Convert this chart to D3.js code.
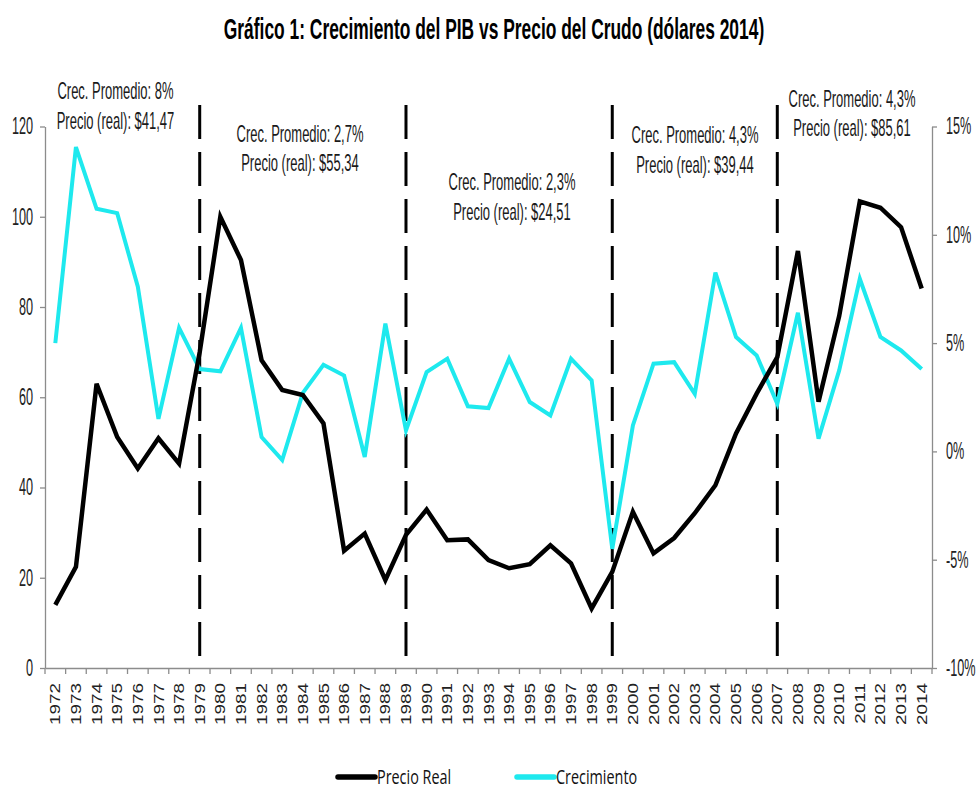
<!DOCTYPE html>
<html>
<head>
<meta charset="utf-8">
<script src="https://cdn.jsdelivr.net/npm/d3@7"></script>
<style>
  body { margin: 0; background: #fff; }
  svg { display: block; }
</style>
</head>
<body>
<div id="chart"></div>
<script>
// data
const years = d3.range(1972, 2015);
const precioReal = [14.0, 22.4, 63.0, 51.2, 44.2, 50.9, 45.3, 70.0, 100.0, 90.4,
  68.2, 61.6, 60.5, 54.2, 26.0, 29.8, 19.5, 29.5, 35.1, 28.3,
  28.5, 23.9, 22.1, 23.0, 27.2, 23.2, 13.2, 21.3, 34.6, 25.4,
  28.8, 34.3, 40.5, 52.0, 60.8, 68.9, 92.4, 59.0, 78.0, 103.4,
  102.0, 97.7, 84.1];
const crecimiento = [5.0, 14.05, 11.2, 11.0, 7.6, 1.5, 5.7, 3.8, 3.7, 5.7,
  0.66, -0.4, 2.7, 4.0, 3.5, -0.26, 5.9, 0.97, 3.66, 4.28,
  2.08, 2.0, 4.28, 2.28, 1.66, 4.28, 3.28, -4.5, 1.2, 4.05,
  4.12, 2.66, 8.26, 5.28, 4.43, 2.2, 6.4, 0.59, 3.74, 7.97,
  5.28, 4.66, 3.8];
const leftTicks = [0, 20, 40, 60, 80, 100, 120];
const rightTicks = [-10, -5, 0, 5, 10, 15];
const dividerYears = [1979, 1989, 1999, 2007];
const annotGrowth = ["8%", "2,7%", "2,3%", "4,3%", "4,3%"];
const annotPrice = ["$41,47", "$55,34", "$24,51", "$39,44", "$85,61"];
const seriesNames = ["Precio Real", "Crecimiento"];

// layout
const width = 977, height = 789;
const margin = { left: 45, right: 932, top: 126.5, bottom: 668 };
const annotLayout = [
  { x: 115.5, y: 99 }, { x: 300, y: 141.5 }, { x: 512, y: 190 },
  { x: 695, y: 143 }, { x: 852, y: 106.5 }
];
const cyan = "#1ee9ee";
const sans = "'Liberation Sans', Arial, sans-serif";

const svg = d3.select("#chart").append("svg")
  .attr("width", width)
  .attr("height", height)
  .attr("viewBox", [0, 0, width, height]);

// squeeze text horizontally (the original uses a narrow face)
// done with a transform so the real box of the text gets narrower too
function squeeze(sel, k) {
  sel.each(function() {
    const t = d3.select(this);
    const tx = +t.attr("x") || 0;
    const ty = +t.attr("y") || 0;
    t.attr("x", 0).attr("y", 0)
      .attr("transform", `translate(${tx},${ty}) scale(${k},1)`);
  });
}

// scales
const x = d3.scaleBand().domain(years).range([margin.left, margin.right]);
const yL = d3.scaleLinear().domain([0, 120]).range([margin.bottom, margin.top]);
const yR = d3.scaleLinear().domain([-10, 15]).range([margin.bottom, margin.top]);
const cx = d => x(d) + x.bandwidth() / 2;

// title
svg.append("text")
  .attr("x", 494)
  .attr("y", 39)
  .attr("text-anchor", "middle")
  .style("font-family", sans)
  .style("font-size", "29px")
  .style("font-weight", "bold")
  .text("Gráfico 1: Crecimiento del PIB vs Precio del Crudo (dólares 2014)")
  .call(squeeze, 0.60);

// left axis
const gL = svg.append("g")
  .attr("transform", `translate(${margin.left},0)`)
  .call(d3.axisLeft(yL).tickValues(leftTicks).tickSize(5).tickSizeOuter(0).tickPadding(7));
gL.selectAll("text")
  .style("font-family", sans)
  .style("font-size", "23px")
  .attr("fill", "#222")
  .call(squeeze, 0.55);

// right axis
const gR = svg.append("g")
  .attr("transform", `translate(${margin.right},0)`)
  .call(d3.axisRight(yR).tickValues(rightTicks).tickSize(5).tickSizeOuter(0).tickPadding(9)
    .tickFormat(d => d + "%"));
gR.selectAll("text")
  .style("font-family", sans)
  .style("font-size", "23px")
  .attr("fill", "#222")
  .call(squeeze, 0.55);

// bottom axis: labels at band centres, ticks on band edges
const gB = svg.append("g")
  .attr("transform", `translate(0,${margin.bottom})`)
  .call(d3.axisBottom(x).tickSize(0).tickSizeOuter(0).tickPadding(0));
gB.selectAll("text")
  .attr("x", 0)
  .attr("y", 0)
  .attr("dy", "0.36em")
  .attr("transform", "rotate(-90) translate(-15,0) scale(1.35,1)")
  .attr("text-anchor", "end")
  .style("font-family", sans)
  .style("font-size", "14px")
  .attr("fill", "#222");
gB.selectAll(".edge")
  .data(years.map(d => x(d)).concat([margin.right]))
  .join("line")
  .attr("class", "edge")
  .attr("x1", d => d).attr("x2", d => d)
  .attr("y1", 0).attr("y2", 6);

[gL, gR, gB].forEach(g => {
  g.selectAll("path, line").attr("stroke", "#8c8c8c").attr("stroke-width", 1.3);
});

// period dividers
svg.append("g")
  .selectAll("line")
  .data(dividerYears)
  .join("line")
  .attr("x1", d => cx(d)).attr("x2", d => cx(d))
  .attr("y1", 105).attr("y2", margin.bottom)
  .attr("stroke", "#000")
  .attr("stroke-width", 3)
  .attr("stroke-dasharray", "34,13");

// series lines
const linePrecio = d3.line().x((d, i) => cx(years[i])).y(d => yL(d));
const lineCrec = d3.line().x((d, i) => cx(years[i])).y(d => yR(d));

svg.append("path")
  .datum(crecimiento)
  .attr("d", lineCrec)
  .attr("fill", "none")
  .attr("stroke", cyan)
  .attr("stroke-width", 4)
  .attr("stroke-linejoin", "miter");

svg.append("path")
  .datum(precioReal)
  .attr("d", linePrecio)
  .attr("fill", "none")
  .attr("stroke", "#000")
  .attr("stroke-width", 4.5)
  .attr("stroke-linejoin", "miter");

// period annotations
const ann = svg.append("g")
  .style("font-family", sans)
  .style("font-size", "23px")
  .attr("fill", "#1a1a1a")
  .attr("text-anchor", "middle");
annotLayout.forEach((p, i) => {
  ann.append("text")
    .attr("x", p.x).attr("y", p.y)
    .text("Crec. Promedio: " + annotGrowth[i])
    .call(squeeze, 0.565);
  ann.append("text")
    .attr("x", p.x).attr("y", p.y + 29.5)
    .text("Precio (real): " + annotPrice[i])
    .call(squeeze, 0.565);
});

// legend
const legendItems = [
  { name: seriesNames[0], color: "#000", x: 338 },
  { name: seriesNames[1], color: cyan, x: 517 }
];
const lg = svg.append("g").attr("transform", "translate(0,777)");
legendItems.forEach(d => {
  lg.append("line")
    .attr("x1", d.x).attr("x2", d.x + 37)
    .attr("y1", 0).attr("y2", 0)
    .attr("stroke", d.color)
    .attr("stroke-width", 5.5)
    .attr("stroke-linecap", "round");
  lg.append("text")
    .attr("x", d.x + 39)
    .attr("y", 7)
    .style("font-family", "'Open Sans', sans-serif")
    .style("font-size", "20px")
    .attr("fill", "#111")
    .text(d.name)
    .call(squeeze, 0.72);
});
</script>
</body>
</html>
